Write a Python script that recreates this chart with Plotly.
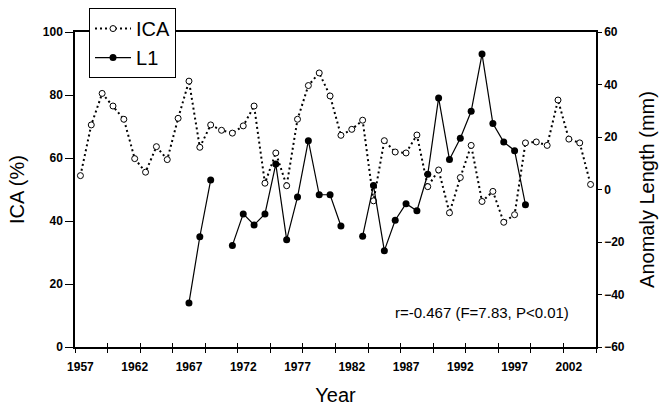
import plotly.graph_objects as go

years = list(range(1957, 2005))
ica = [54.4, 70.5, 80.5, 76.5, 72.3, 59.8, 55.5, 63.6, 59.5, 72.6,
       84.4, 63.4, 70.5, 68.8, 67.9, 70.2, 76.5, 52.0, 61.6, 51.2,
       72.3, 83.0, 87.0, 79.7, 67.2, 69.1, 72.0, 46.4, 65.5, 61.9,
       61.6, 67.3, 50.9, 56.2, 42.6, 53.8, 64.0, 46.2, 49.4, 39.6,
       42.0, 64.8, 65.1, 64.0, 78.4, 66.0, 64.8, 51.6]
l1 = [None, None, None, None, None, None, None, None, None, None,
      -43.2, -18.0, 3.6, None, -21.3, -9.3, -13.5, -9.3, 9.7, -19.1,
      -2.9, 18.6, -2.0, -2.0, -13.9, None, -17.8, 1.5, -23.3, -11.7,
      -5.4, -8.1, 5.8, 34.9, 11.4, 19.5, 29.8, 51.6, 25.1, 18.1,
      14.8, -5.8, None, None, None, None, None, None]
label_years = [1957, 1962, 1967, 1972, 1977, 1982, 1987, 1992, 1997, 2002]
left_ticks = [0, 20, 40, 60, 80, 100]
right_ticks = [-60, -40, -20, 0, 20, 40, 60]

FONT = "Liberation Sans, Arial, sans-serif"
tickfont = dict(family=FONT, size=12, color="black", weight="bold")

fig = go.Figure()
fig.add_trace(go.Scatter(
    x=years, y=ica, name="ICA", mode="lines+markers",
    xaxis="x", yaxis="y",
    line=dict(color="black", width=2, dash="2px,3px"),
    marker=dict(symbol="circle", size=6, color="white",
                line=dict(color="black", width=1)),
))
fig.add_trace(go.Scatter(
    x=years, y=l1, name="L1", mode="lines+markers",
    xaxis="x2", yaxis="y2", connectgaps=False,
    line=dict(color="black", width=1.2),
    marker=dict(symbol="circle", size=7, color="black"),
))

fig.update_layout(
    width=668, height=410,
    margin=dict(l=75, r=72, t=32, b=63, autoexpand=False),
    paper_bgcolor="white", plot_bgcolor="white",
    font=dict(family=FONT, color="black"),
    showlegend=True,
    legend=dict(x=0.0269, y=1.076, xanchor="left", yanchor="top",
                bgcolor="white", bordercolor="black", borderwidth=1,
                font=dict(family=FONT, size=20, color="black"),
                itemwidth=36),
    xaxis=dict(
        range=[1956.5, 2004.5], tickmode="array", tickvals=label_years,
        ticktext=[str(v) for v in label_years], ticks="",
        showline=True, linecolor="black", linewidth=1.5, mirror=True,
        showgrid=False, zeroline=False, tickfont=tickfont,
        ticklabelstandoff=8, automargin=False,
        minor=dict(tickmode="linear", tick0=1956.5, dtick=3, ticks="outside",
                   ticklen=4, tickcolor="black", tickwidth=1, showgrid=False),
        title=dict(text="Year", font=dict(family=FONT, size=20, color="black"),
                   standoff=15),
    ),
    xaxis2=dict(
        range=[1956.5, 2004.5], overlaying="x", anchor="y", side="bottom",
        tickmode="linear", tick0=1956.5, dtick=3, ticks="inside", ticklen=4,
        tickcolor="black", tickwidth=1, showticklabels=False,
        showline=False, showgrid=False, zeroline=False, automargin=False,
    ),
    yaxis=dict(
        range=[0, 100], tickmode="array", tickvals=left_ticks,
        ticks="outside", ticklen=8, tickcolor="black", tickwidth=1,
        showline=True, linecolor="black", linewidth=1.5,
        showgrid=False, zeroline=False, tickfont=tickfont, automargin=False,
        title=dict(text="ICA (%)", font=dict(family=FONT, size=20, color="black"),
                   standoff=13),
    ),
    yaxis2=dict(
        range=[-60, 60], tickmode="array", tickvals=right_ticks,
        overlaying="y", side="right", anchor="x2",
        ticks="outside", ticklen=4, tickcolor="black", tickwidth=1,
        showline=True, linecolor="black", linewidth=1.5,
        showgrid=False, zeroline=False, tickfont=tickfont, automargin=False,
        title=dict(text="Anomaly Length (mm)",
                   font=dict(family=FONT, size=20, color="black"), standoff=16),
    ),
    annotations=[dict(
        text="r=-0.467 (F=7.83, P<0.01)", xref="paper", yref="paper",
        x=0.782, y=0.108, xanchor="center", yanchor="middle", showarrow=False,
        font=dict(family=FONT, size=15, color="black"),
    )],
)

fig.write_html("out.html", config={"displayModeBar": False},
               post_script="document.body.style.margin='0';document.body.style.overflow='hidden';")
